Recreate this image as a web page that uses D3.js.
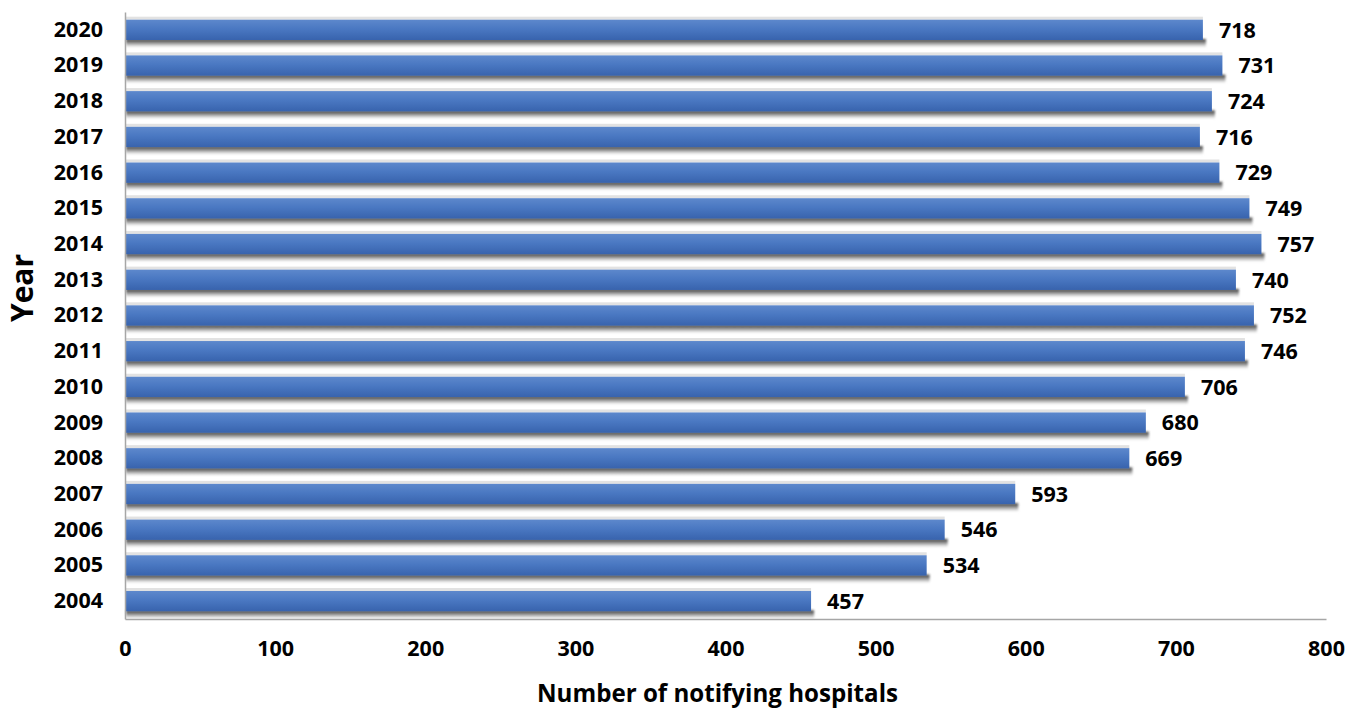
<!DOCTYPE html>
<html>
<head>
<meta charset="utf-8">
<script src="https://cdn.jsdelivr.net/npm/d3@7"></script>
<style>
  html, body { margin: 0; padding: 0; background: #fff; }
  svg text { font-family: "Open Sans", "DejaVu Sans", sans-serif; font-weight: 700; fill: #000; }
</style>
</head>
<body>
<svg id="chart" width="1349" height="709"></svg>
<script>
const years = ["2020","2019","2018","2017","2016","2015","2014","2013","2012","2011","2010","2009","2008","2007","2006","2005","2004"];
const hospitals = [718, 731, 724, 716, 729, 749, 757, 740, 752, 746, 706, 680, 669, 593, 546, 534, 457];
const xTicks = [0, 100, 200, 300, 400, 500, 600, 700, 800];
const xTitle = "Number of notifying hospitals";
const yTitle = "Year";

const svg = d3.select("#chart");
const mLeft = 125, mRight = 1326, mTop = 12, mBottom = 619;
const fs = 21.5;

const x = d3.scaleLinear().domain([0, 800]).range([mLeft, mRight]);
const y = d3.scaleBand().domain(years).range([mTop, mBottom]).paddingInner(0.43).paddingOuter(0.215);

const defs = svg.append("defs");
const grad = defs.append("linearGradient").attr("id", "barGrad").attr("x1", 0).attr("y1", 0).attr("x2", 0).attr("y2", 1);
grad.append("stop").attr("offset", "0%").attr("stop-color", "#5d88cc");
grad.append("stop").attr("offset", "45%").attr("stop-color", "#4a78c2");
grad.append("stop").attr("offset", "100%").attr("stop-color", "#3863ad");

const shGrad = defs.append("linearGradient").attr("id", "shGrad").attr("x1", 0).attr("y1", 0).attr("x2", 0).attr("y2", 1);
shGrad.append("stop").attr("offset", "0%").attr("stop-color", "#333").attr("stop-opacity", 1);
shGrad.append("stop").attr("offset", "50%").attr("stop-color", "#777").attr("stop-opacity", 0.8);
shGrad.append("stop").attr("offset", "100%").attr("stop-color", "#ccc").attr("stop-opacity", 0.3);

const blur = defs.append("filter").attr("id", "blur").attr("x", "-5%").attr("y", "-50%").attr("width", "110%").attr("height", "200%");
blur.append("feGaussianBlur").attr("stdDeviation", 1.3);

const data = years.map((yr, i) => ({ year: yr, value: hospitals[i] }));

// light line above each bar
svg.append("g").selectAll("rect").data(data).join("rect")
  .attr("x", x(0))
  .attr("y", d => y(d.year) - 3)
  .attr("width", d => x(d.value) - x(0))
  .attr("height", 3)
  .attr("fill", "#e2e2e2");

// shadows
svg.append("g").attr("filter", "url(#blur)").selectAll("rect").data(data).join("rect")
  .attr("x", x(0) + 1)
  .attr("y", d => y(d.year) + y.bandwidth() - 1)
  .attr("width", d => x(d.value) - x(0) + 2)
  .attr("height", 8)
  .attr("fill", "url(#shGrad)");

// bars
svg.append("g").selectAll("rect").data(data).join("rect")
  .attr("x", x(0))
  .attr("y", d => y(d.year))
  .attr("width", d => x(d.value) - x(0))
  .attr("height", y.bandwidth())
  .attr("fill", "url(#barGrad)");

// value labels
svg.append("g").selectAll("text").data(data).join("text")
  .attr("x", d => x(d.value) + 16)
  .attr("y", d => y(d.year) + y.bandwidth() / 2)
  .attr("dy", "0.36em")
  .attr("font-size", fs)
  .text(d => d.value);

// axes
const xAxis = svg.append("g").attr("transform", `translate(0,${mBottom})`)
  .call(d3.axisBottom(x).tickValues(xTicks).tickSize(0).tickPadding(22));
xAxis.select(".domain").attr("stroke", "#a6a6a6").attr("stroke-width", 1.5);
xAxis.selectAll("text").attr("font-size", fs).style("font-family", "'Open Sans', sans-serif").style("font-weight", 700).attr("fill", "#000");

const yAxis = svg.append("g").attr("transform", `translate(${mLeft},0)`)
  .call(d3.axisLeft(y).tickSize(0).tickPadding(22));
yAxis.select(".domain").attr("stroke", "#a6a6a6").attr("stroke-width", 1.5);
yAxis.selectAll("text").attr("font-size", fs).style("font-family", "'Open Sans', sans-serif").style("font-weight", 700).attr("fill", "#000");

// titles
svg.append("text")
  .attr("x", 717.5)
  .attr("y", 702)
  .attr("text-anchor", "middle")
  .attr("font-size", 25)
  .attr("textLength", 361)
  .attr("lengthAdjust", "spacingAndGlyphs")
  .text(xTitle);

svg.append("text")
  .attr("transform", "translate(33,288) rotate(-90)")
  .attr("text-anchor", "middle")
  .attr("font-size", 30)
  .text(yTitle);
</script>
</body>
</html>
